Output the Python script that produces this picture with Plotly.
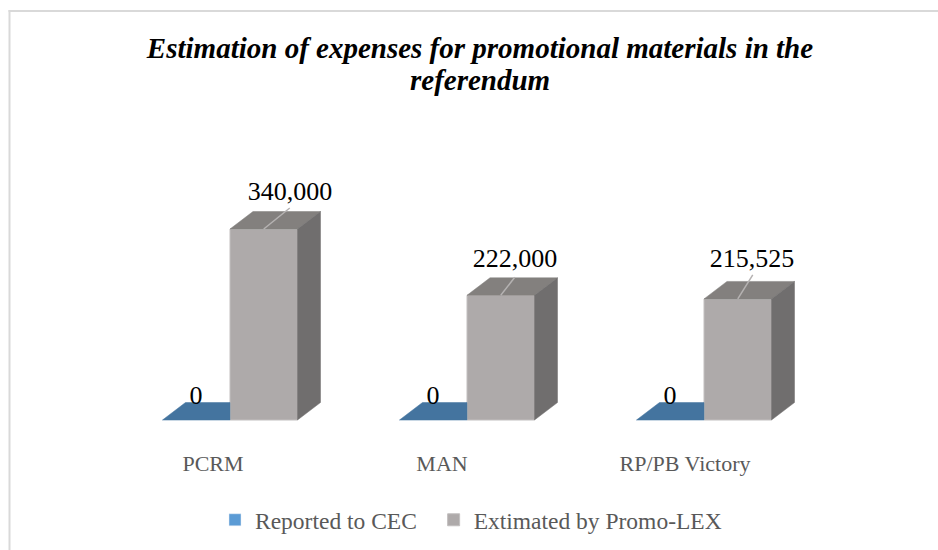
import plotly.graph_objects as go

categories = ["PCRM", "MAN", "RP/PB Victory"]
reported = [0, 0, 0]
estimated = [340000, 222000, 215525]
label_text_reported = ["0", "0", "0"]
label_text_estimated = ["340,000", "222,000", "215,525"]
title_lines = ["Estimation of expenses for promotional materials in the", "referendum"]

W, H = 938, 550
PX_X = 237.0          # pixels per category
PX_Y = 340000 / 191   # value units per pixel
AXIS_PX = 448
ZERO_PX = 420
ORIGIN_PX = 230

BAR_W = 67.5 / PX_X
DX = 23 / PX_X
DY = 17.5 * PX_Y
xpos = list(range(len(categories)))
tick_shift_px = [-17, -25, -19]
lab_dx_px = [60, 48, 48]
lab_dy_px = [36, 35, 38]
lead_dx_px = [26, 14, 15]
lead_dy_px = [21, 18, 24]

SERIF = "Liberation Serif"

fig = go.Figure()
fig.add_trace(go.Bar(x=xpos, y=reported, width=BAR_W, offset=-BAR_W, name="Reported to CEC\u00a0\u00a0",
                     marker=dict(color="#5B9BD5"), hoverinfo="skip"))
fig.add_trace(go.Bar(x=xpos, y=estimated, width=BAR_W, offset=0, name="Extimated by Promo-LEX",
                     marker=dict(color="#AEAAAA", line=dict(color="#C2BFBF", width=1)), hoverinfo="skip"))


def poly(xs, ys, color):
    fig.add_trace(go.Scatter(x=xs + xs[:1], y=ys + ys[:1], mode="lines", fill="toself", fillcolor=color,
                             line=dict(color=color, width=0.5), showlegend=False, hoverinfo="skip"))


for i, r, e in zip(xpos, reported, estimated):
    # blue floor, visible up to the grey bar
    poly([i - BAR_W, i, i, i - BAR_W + DX], [r, r, r + DY, r + DY], "#44749F")
    # grey top and side
    poly([i, i + BAR_W, i + BAR_W + DX, i + DX], [e, e, e + DY, e + DY], "#83807E")
    poly([i + BAR_W, i + BAR_W + DX, i + BAR_W + DX, i + BAR_W], [0, DY, e + DY, e], "#706E6E")
    # leader line
    j = xpos.index(i)
    mid = i + BAR_W / 2
    fig.add_trace(go.Scatter(x=[mid, mid + lead_dx_px[j] / PX_X], y=[e, e + lead_dy_px[j] * PX_Y], mode="lines",
                             line=dict(color="#B5B2B2", width=1.5), showlegend=False, hoverinfo="skip"))

fig.add_trace(go.Scatter(
    x=[i - 34 / PX_X for i in xpos], y=[r + 23 * PX_Y for r in reported], mode="text",
    text=label_text_reported, textposition="middle center",
    textfont=dict(family=SERIF, size=26, color="#000000"), showlegend=False, hoverinfo="skip"))
fig.add_trace(go.Scatter(
    x=[i + d / PX_X for i, d in zip(xpos, lab_dx_px)],
    y=[e + d * PX_Y for e, d in zip(estimated, lab_dy_px)], mode="text",
    text=label_text_estimated, textposition="middle center",
    textfont=dict(family=SERIF, size=26, color="#000000"), showlegend=False, hoverinfo="skip"))

fig.update_layout(
    width=W, height=H, autosize=False,
    margin=dict(l=0, r=0, t=0, b=0),
    paper_bgcolor="#FFFFFF", plot_bgcolor="#FFFFFF",
    barmode="overlay",
    title=dict(text=f"<b><i>{title_lines[0]}</i></b>",
               x=480 / W, xanchor="center", y=1 - 48 / H, yanchor="middle",
               font=dict(family=SERIF, size=29, color="#000000")),
    annotations=[dict(text=f"<b><i>{title_lines[1]}</i></b>", xref="paper", yref="paper",
                      x=480 / W, y=1 - 80 / H, xanchor="center", yanchor="middle", showarrow=False,
                      font=dict(family=SERIF, size=29, color="#000000"))],
    xaxis=dict(range=[-ORIGIN_PX / PX_X, (W - ORIGIN_PX) / PX_X],
               tickmode="array",
               tickvals=[i + s / PX_X for i, s in zip(xpos, tick_shift_px)], ticktext=categories,
               ticklen=0, showgrid=False, zeroline=False, showline=False,
               tickfont=dict(family=SERIF, size=22, color="#595959")),
    yaxis=dict(domain=[(H - AXIS_PX) / H, 1],
               range=[-(AXIS_PX - ZERO_PX) * PX_Y, ZERO_PX * PX_Y],
               showticklabels=False, ticks="", showgrid=False, zeroline=False, showline=False),
    legend=dict(orientation="h", x=215 / W, xanchor="left", y=1 - 498 / H, yanchor="top",
                font=dict(family=SERIF, size=23.5, color="#595959"), itemclick=False, itemdoubleclick=False),
    shapes=[
        dict(type="line", xref="paper", yref="paper", x0=9.5 / W, x1=9.5 / W, y0=0, y1=1 - 10 / H,
             line=dict(color="#D9D9D9", width=2)),
        dict(type="line", xref="paper", yref="paper", x0=8.5 / W, x1=1, y0=1 - 11 / H, y1=1 - 11 / H,
             line=dict(color="#D9D9D9", width=2)),
    ],
)
fig.write_html("out.html", config=dict(displayModeBar=False),
               post_script="document.body.style.margin='0';document.body.style.overflow='hidden';")
